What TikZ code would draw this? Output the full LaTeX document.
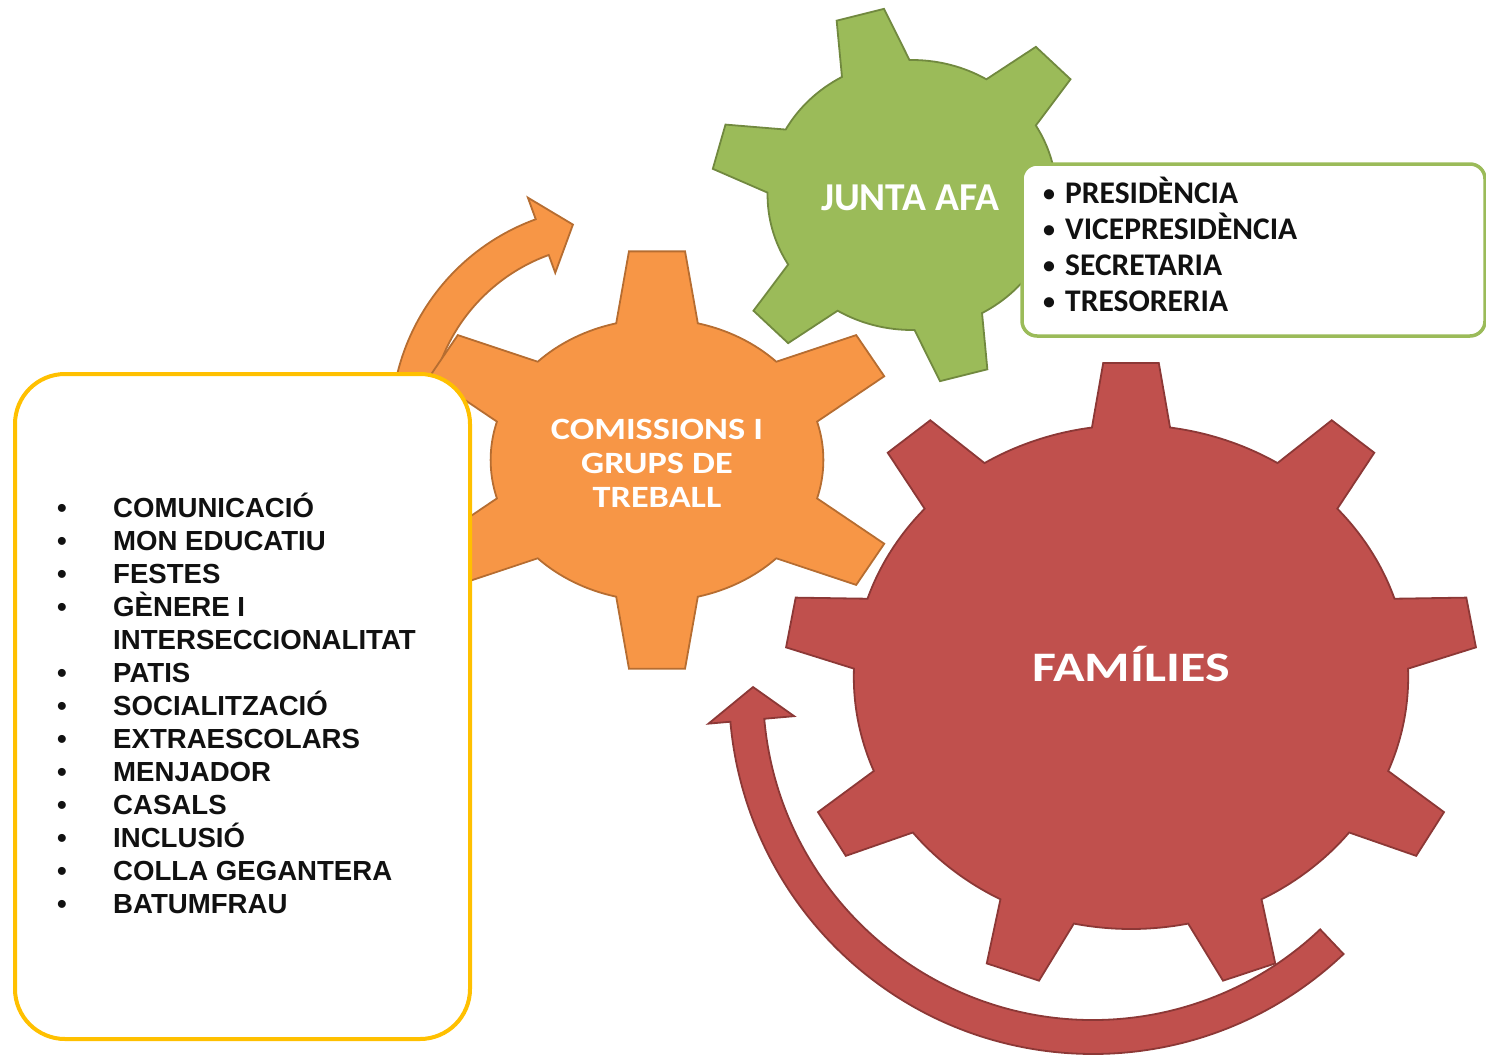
\documentclass[tikz,border=0pt]{standalone}
\usepackage{fontspec}
\usepackage{graphicx}
\newfontfamily\calibri{Carlito}
\newfontfamily\arialf{Liberation Sans}
\usetikzlibrary{positioning}
\definecolor{juntagreen}{HTML}{9BBB59}
\definecolor{juntaedge}{HTML}{71893F}
\definecolor{comorange}{HTML}{F79646}
\definecolor{comedge}{HTML}{B66D31}
\definecolor{famred}{HTML}{C0504D}
\definecolor{famedge}{HTML}{8C3836}
\definecolor{boxyellow}{HTML}{FFC000}
\definecolor{listink}{HTML}{111111}
\tikzset{
  gear/.style={line width=1.8pt, line join=miter},
  geartext/.style={text=white, align=center, inner sep=0pt},
  comlist/.style={text=listink, inner sep=0pt,
    font=\arialf\bfseries\fontsize{27.6}{33}\selectfont},
  juntalist/.style={text=listink, inner sep=0pt,
    font=\calibri\bfseries\fontsize{31.5}{36}\selectfont}
}

\begin{document}
\begin{tikzpicture}[x=1pt, y=-1pt]
\useasboundingbox (0,0) rectangle (1486,1058);

\coordinate (juntac) at (912,195);
\coordinate (comc) at (657,460);
\coordinate (famc) at (1131,677);
\coordinate (comarrowc) at (611,426);
\coordinate (famarrowc) at (1093,690);

% orange arrow
\begin{scope}[shift={(comarrowc)}]
  \draw[gear, fill=comorange, draw=comedge]
    (190:220) arc[start angle=190, end angle=250, radius=220]
    -- (250:243) -- (259.3:205) -- (250:163) -- (250:182)
    arc[start angle=250, end angle=190, radius=182] -- cycle;
\end{scope}

% gears
\begin{scope}[shift={(juntac)}, xscale=1.07]
  \draw[gear, fill=juntagreen, draw=juntaedge] (1:135)
    \foreach \a in {15,75,...,315} {
      -- (\a-7:188) -- (\a+7:188) -- (\a+14:135)
      arc[start angle=\a+14, end angle=\a+46, radius=135]
    } -- cycle;
\end{scope}
\begin{scope}[shift={(comc)}, xscale=1.18]
  \draw[gear, fill=comorange, draw=comedge] (15.8:141)
    \foreach \a in {30,90,...,330} {
      -- (\a-6.5:210) -- (\a+6.5:210) -- (\a+14.2:141)
      arc[start angle=\a+14.2, end angle=\a+45.8, radius=141]
    } -- cycle;
\end{scope}
\begin{scope}[shift={(famc)}, xscale=1.1]
  \draw[gear, fill=famred, draw=famedge] (261.9:252)
    \foreach \a in {270,310,...,590} {
      -- (\a-4.6:315) -- (\a+4.6:315) -- (\a+8.1:252)
      arc[start angle=\a+8.1, end angle=\a+31.9, radius=252]
    } -- cycle;
\end{scope}

% red arrow
\begin{scope}[shift={(famarrowc)}]
  \draw[gear, fill=famred, draw=famedge]
    (46.5:364) arc[start angle=46.5, end angle=175, radius=364]
    -- (175:386) -- (180.5:340) -- (175:300) -- (175:330)
    arc[start angle=175, end angle=46.5, radius=330] -- cycle;
\end{scope}

% boxes
\draw[line width=3.5pt, draw=juntagreen, fill=white, rounded corners=15pt]
  (1022,164) rectangle (1485,336);
\draw[line width=4pt, draw=boxyellow, fill=white, rounded corners=50pt]
  (15,374) rectangle (470,1039);

% gear labels
\node[geartext, font=\calibri\bfseries\fontsize{39.5}{44}\selectfont]
  (junta) at (910,198) {JUNTA AFA};
\node[geartext, font=\calibri\bfseries\fontsize{31}{34}\selectfont]
  (comissions) at (657,463) {\scalebox{1.17}[1]{COMISSIONS I}\\
  \scalebox{1.17}[1]{GRUPS DE}\\ \scalebox{1.17}[1]{TREBALL}};
\node[geartext, font=\calibri\bfseries\fontsize{42}{46}\selectfont,
  anchor=base] (families) at (1131,681) {\scalebox{1.24}[1]{FAMÍLIES}};

% junta list
\foreach \txt [count=\i] in {PRESIDÈNCIA, VICEPRESIDÈNCIA, SECRETARIA, TRESORERIA} {
  \node[juntalist, anchor=base, font=\calibri\bfseries\fontsize{24}{24}\selectfont]
    (jdot\i) at (1049,{201+36.3*(\i-1)}) {•};
  \node[juntalist, anchor=base west] (jitem\i) at (1065,{203+36.3*(\i-1)}) {\txt};
}

% comissions list
\foreach \txt [count=\i] in {COMUNICACIÓ, MON EDUCATIU, FESTES, GÈNERE I,
    INTERSECCIONALITAT, PATIS, SOCIALITZACIÓ, EXTRAESCOLARS, MENJADOR,
    CASALS, INCLUSIÓ, COLLA GEGANTERA, BATUMFRAU}
  \node[comlist, anchor=base west] (citem\i) at (113,{517+33*(\i-1)}) {\txt};
\foreach \i in {1,2,3,4,6,7,8,9,10,11,12,13}
  \node[comlist, anchor=base] (cdot\i) at (62,{517+33*(\i-1)}) {•};

\end{tikzpicture}
\end{document}
